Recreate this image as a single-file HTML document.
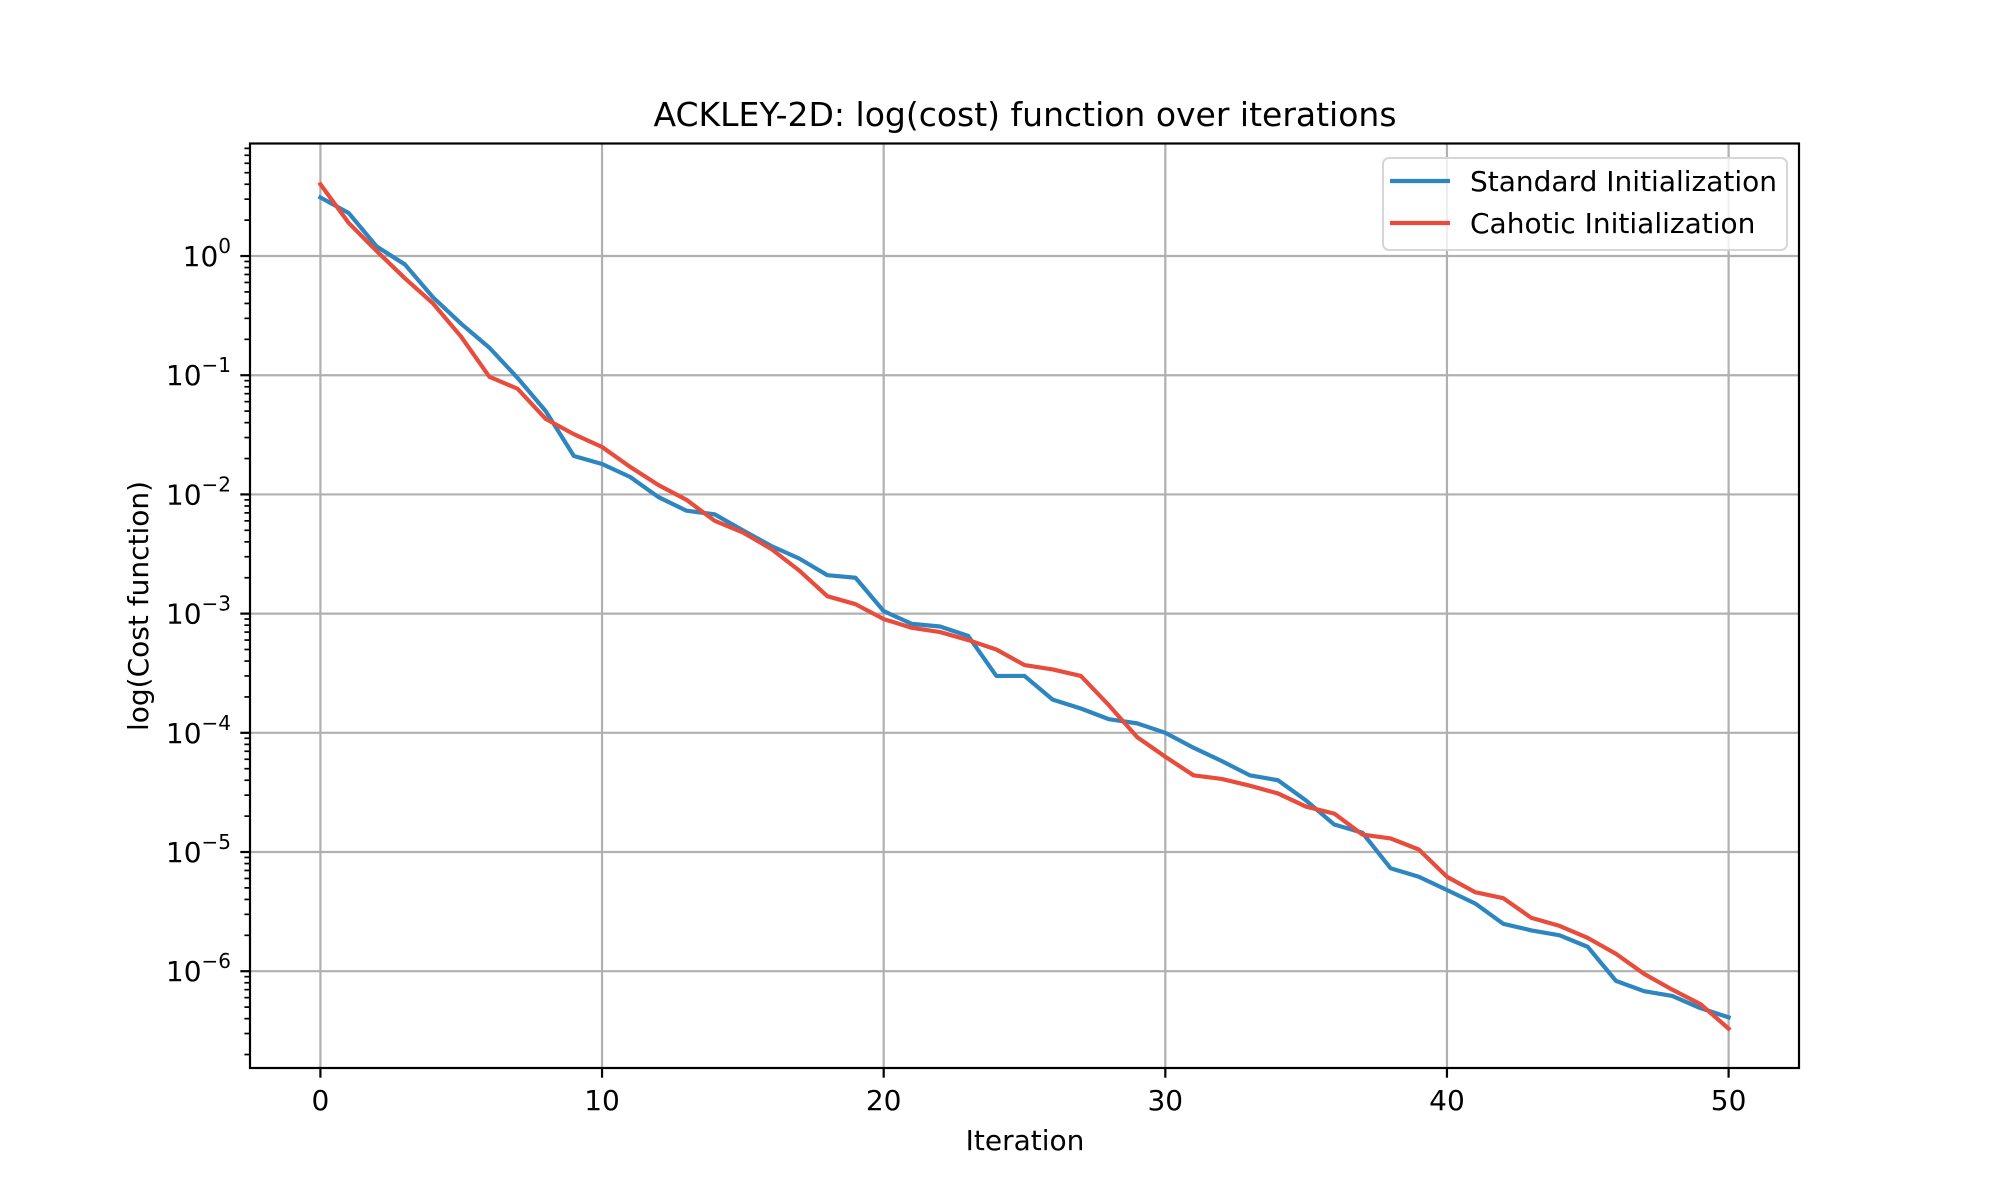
<!DOCTYPE html>
<html><head><meta charset="utf-8"><style>
html,body{margin:0;padding:0;background:#fff;}
svg{display:block;font-family:"DejaVu Sans","Liberation Sans",sans-serif;}
</style></head><body>
<svg id="chart" width="2000" height="1200" viewBox="0 0 2000 1200" xmlns="http://www.w3.org/2000/svg">
<rect x="0" y="0" width="2000" height="1200" fill="#fff"/>
<text x="1025" y="126" font-size="33" text-anchor="middle" fill="#000">ACKLEY-2D: log(cost) function over iterations</text>
<text x="1025" y="1150" font-size="28" text-anchor="middle" fill="#000">Iteration</text>
<text x="148" y="606" font-size="28" text-anchor="middle" fill="#000" transform="rotate(-90 148 606)">log(Cost function)</text>
<g id="grid"></g>
<g id="series"></g>
<g id="axes"></g>
<g id="legend">
  <rect x="1383" y="158" width="404" height="92" rx="6" fill="#fff" fill-opacity="0.8" stroke="#d6d6d6" stroke-width="2"/>
  <line x1="1390" y1="181" x2="1450" y2="181" stroke="#2e86c1" stroke-width="4.2"/>
  <text x="1470" y="191" font-size="28" fill="#000">Standard Initialization</text>
  <line x1="1390" y1="223" x2="1450" y2="223" stroke="#e74c3c" stroke-width="4.2"/>
  <text x="1470" y="233" font-size="28" fill="#000">Cahotic Initialization</text>
</g>
</svg>
<script>
const standardValues = [3.1,2.3,1.2,0.85,0.45,0.27,0.17,0.095,0.05,0.021,0.018,0.014,0.0095,0.0073,0.0068,0.005,0.0037,0.0029,0.0021,0.002,0.00105,0.00082,0.00078,0.00065,0.0003,0.0003,0.00019,0.00016,0.00013,0.00012,0.0001,7.5e-5,5.8e-5,4.4e-5,4e-5,2.7e-5,1.7e-5,1.45e-5,7.3e-6,6.2e-6,4.8e-6,3.7e-6,2.5e-6,2.2e-6,2.0e-6,1.6e-6,8.3e-7,6.8e-7,6.2e-7,4.9e-7,4.1e-7];
const chaoticValues = [4.0,1.9,1.1,0.65,0.4,0.21,0.097,0.077,0.043,0.032,0.025,0.017,0.012,0.009,0.006,0.0048,0.0035,0.0023,0.0014,0.0012,0.0009,0.00076,0.0007,0.0006,0.0005,0.00037,0.00034,0.0003,0.00017,9.2e-5,6.3e-5,4.4e-5,4.1e-5,3.6e-5,3.1e-5,2.4e-5,2.1e-5,1.4e-5,1.3e-5,1.05e-5,6.2e-6,4.6e-6,4.1e-6,2.8e-6,2.4e-6,1.9e-6,1.4e-6,9.5e-7,7e-7,5.3e-7,3.3e-7];
const xTicks = [0,10,20,30,40,50];
const yTickExps = [0,-1,-2,-3,-4,-5,-6];

const NS = "http://www.w3.org/2000/svg";
const L = 250, R = 1799, T = 143.5, B = 1068;
const xMin = -2.5, xMax = 52.5;
const logMin = -6.812, logMax = 0.944;
function xs(v){ return L + (v - xMin) / (xMax - xMin) * (R - L); }
function ys(v){ return B - (Math.log10(v) - logMin) / (logMax - logMin) * (B - T); }
function mk(tag, attrs, parent){ const e = document.createElementNS(NS, tag); for (const k in attrs) e.setAttribute(k, attrs[k]); parent.appendChild(e); return e; }

const grid = document.getElementById('grid');
const axes = document.getElementById('axes');
const series = document.getElementById('series');

xTicks.forEach(t => {
  const x = xs(t);
  const g = mk('line', {x1:x, y1:T, x2:x, y2:B, stroke:'#b0b0b0', 'stroke-width':2.2}, grid);
  
  
  const tk = mk('line', {x1:x, y1:B, x2:x, y2:B+9.7, stroke:'#000', 'stroke-width':2.2}, axes);
  
  
  const lb = mk('text', {x:x, y:B+42, 'font-size':28, 'text-anchor':'middle', fill:'#000'}, axes);
  lb.textContent = String(t);
  
  
});

yTickExps.forEach(e => {
  const y = ys(Math.pow(10, e));
  const g = mk('line', {x1:L, y1:y, x2:R, y2:y, stroke:'#b0b0b0', 'stroke-width':2.2}, grid);
  
  
  const tk = mk('line', {x1:L-9.7, y1:y, x2:L, y2:y, stroke:'#000', 'stroke-width':2.2}, axes);
  
  
  const lb = mk('text', {x:231, y:y+10, 'font-size':28, 'text-anchor':'end', fill:'#000'}, axes);
  
  
  const base = document.createElementNS(NS, 'tspan'); base.textContent = '10'; lb.appendChild(base);
  const sup = document.createElementNS(NS, 'tspan');
  sup.setAttribute('dy', '-13'); sup.setAttribute('font-size', '20');
  sup.textContent = e === 0 ? '0' : '\u2212' + Math.abs(e);
  lb.appendChild(sup);
});
// minor ticks
for (let e = -7; e <= 0; e++) {
  for (let m = 2; m <= 9; m++) {
    const v = m * Math.pow(10, e);
    const lv = Math.log10(v);
    if (lv < logMin || lv > logMax) continue;
    const y = ys(v);
    const tk = mk('line', {x1:L-5.6, y1:y, x2:L, y2:y, stroke:'#000', 'stroke-width':1.7}, axes);
    
    
  }
}

function drawLine(vals, color, name){
  const d = vals.map((v,i) => (i ? 'L' : 'M') + xs(i).toFixed(2) + ' ' + ys(v).toFixed(2)).join(' ');
  const p = mk('path', {d:d, fill:'none', stroke:color, 'stroke-width':4.2, 'stroke-linejoin':'round', 'stroke-linecap':'square'}, series);
  
  
}
drawLine(standardValues, '#2e86c1', 'standard-initialization-line');
drawLine(chaoticValues, '#e74c3c', 'chaotic-initialization-line');

const frame = mk('rect', {x:L, y:T, width:R-L, height:B-T, fill:'none', stroke:'#000', 'stroke-width':2.2}, axes);


</script>
</body></html>
